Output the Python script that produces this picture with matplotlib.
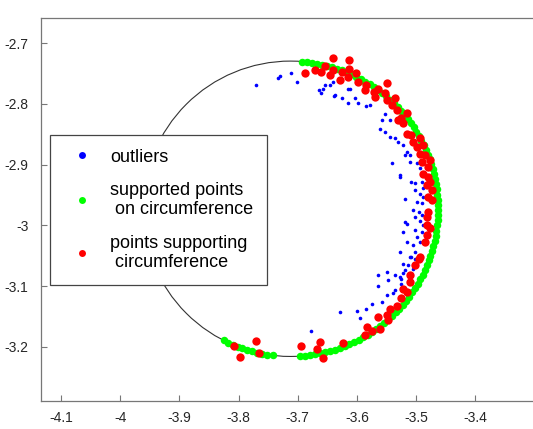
import numpy as np
import matplotlib
matplotlib.use("Agg")
import matplotlib.pyplot as plt
from matplotlib.patches import Ellipse
from matplotlib.lines import Line2D

plt.rcParams['font.family'] = ['Liberation Sans', 'DejaVu Sans']

# fitted circumference (drawn slightly elliptical, as in the source image)
circle_cx, circle_cy = -3.7123, -2.9727
circle_rx, circle_ry = 0.2492, 0.2430

# supported points on circumference, given as angle on the circle (degrees)
green_angles = [85.5, 83.5, 81.5, 79.5, 77.5, 75.5, 73.5, 71.5, 69.5, 67.5,
                65.5, 63.5, 61.5, 59.5, 57.5, 55.5, 53.5, 51.5, 49.5, 47.5,
                45.5, 43.5, 41.5, 39.5, 37.5, 35.5, 33.5, 31.5, 29.5, 27.5,
                25.5, 23.5, 21.5, 19.5, 17.5, 15.5, 13.5, 11.5, 9.5, 7.5,
                5.5, 3.5, 1.5, -0.5, -2.5, -4.5, -6.5, -8.5, -10.5, -12.5,
                -14.5, -16.5, -18.5, -20.5, -22.5, -24.5, -26.5, -28.5, -30.5, -32.5,
                -34.5, -36.5, -38.5, -40.5, -42.5, -44.5, -46.5, -48.5, -50.5, -52.5,
                -54.5, -56.5, -58.5, -60.5, -62.5, -64.5, -66.5, -68.5, -70.5, -72.5,
                -74.5, -76.5, -78.5, -80.5, -82.5, -84.5, -86.5,
                -97, -99, -101, -103, -105, -107, -109, -111, -113, -115, -117]

# points supporting circumference
red_x = [-3.688, -3.671, -3.660, -3.654, -3.640, -3.641, -3.646, -3.626, -3.629, -3.613,
         -3.613, -3.615, -3.601, -3.598, -3.584, -3.586, -3.572, -3.570, -3.564, -3.550,
         -3.553, -3.550, -3.536, -3.541, -3.533, -3.530, -3.516, -3.525, -3.522, -3.516,
         -3.508, -3.505, -3.494, -3.499, -3.488, -3.494, -3.485, -3.491, -3.477, -3.480,
         -3.488, -3.480, -3.477, -3.482, -3.474, -3.480, -3.474, -3.480, -3.482, -3.482,
         -3.477, -3.482, -3.485, -3.496, -3.494, -3.502, -3.510, -3.510, -3.522, -3.516,
         -3.525, -3.533, -3.544, -3.549, -3.564, -3.547, -3.583, -3.575, -3.561, -3.586,
         -3.623, -3.663, -3.668, -3.695, -3.657, -3.807, -3.798, -3.771, -3.766]
red_y = [-2.749, -2.744, -2.748, -2.737, -2.725, -2.744, -2.752, -2.747, -2.761, -2.728,
         -2.742, -2.756, -2.750, -2.764, -2.769, -2.777, -2.780, -2.788, -2.775, -2.766,
         -2.783, -2.794, -2.791, -2.802, -2.810, -2.827, -2.815, -2.824, -2.832, -2.849,
         -2.852, -2.863, -2.857, -2.871, -2.868, -2.882, -2.885, -2.896, -2.893, -2.904,
         -2.915, -2.920, -2.929, -2.934, -2.942, -2.953, -2.959, -2.978, -2.986, -3.000,
         -3.005, -3.016, -3.027, -3.055, -3.052, -3.066, -3.082, -3.093, -3.104, -3.110,
         -3.119, -3.132, -3.137, -3.148, -3.150, -3.156, -3.167, -3.173, -3.170, -3.181,
         -3.193, -3.192, -3.204, -3.198, -3.218, -3.199, -3.216, -3.190, -3.210]

# outliers
blue_x = [-3.771, -3.733, -3.730, -3.711, -3.702, -3.665, -3.660, -3.657, -3.654, -3.646,
          -3.640, -3.637, -3.626, -3.612, -3.615, -3.603, -3.598, -3.584, -3.578, -3.553,
          -3.558, -3.544, -3.561, -3.553, -3.544, -3.536, -3.530, -3.522, -3.516, -3.510,
          -3.541, -3.499, -3.494, -3.491, -3.527, -3.508, -3.502, -3.491, -3.488, -3.502,
          -3.494, -3.488, -3.519, -3.499, -3.491, -3.505, -3.496, -3.491, -3.502, -3.519,
          -3.494, -3.516, -3.488, -3.502, -3.491, -3.522, -3.499, -3.494, -3.516, -3.505,
          -3.527, -3.502, -3.508, -3.502, -3.522, -3.513, -3.505, -3.519, -3.550, -3.564,
          -3.525, -3.547, -3.564, -3.525, -3.536, -3.539, -3.549, -3.558, -3.575, -3.585,
          -3.600, -3.595, -3.629, -3.677, -3.615, -3.638, -3.519, -3.510, -3.527, -3.510,
          -3.522, -3.536, -3.527]
blue_y = [-2.769, -2.757, -2.754, -2.749, -2.764, -2.777, -2.783, -2.775, -2.769, -2.769,
          -2.764, -2.786, -2.791, -2.775, -2.799, -2.791, -2.799, -2.804, -2.802, -2.816,
          -2.827, -2.827, -2.842, -2.846, -2.854, -2.857, -2.863, -2.868, -2.879, -2.885,
          -2.898, -2.898, -2.906, -2.915, -2.920, -2.929, -2.931, -2.929, -2.939, -2.942,
          -2.948, -2.953, -2.957, -2.961, -2.964, -2.975, -2.978, -2.983, -2.986, -2.994,
          -2.992, -2.997, -3.000, -3.008, -3.011, -3.011, -3.019, -3.027, -3.027, -3.033,
          -3.044, -3.044, -3.052, -3.055, -3.063, -3.066, -3.071, -3.074, -3.077, -3.082,
          -3.088, -3.090, -3.099, -3.096, -3.107, -3.112, -3.115, -3.126, -3.129, -3.137,
          -3.141, -3.152, -3.143, -3.174, -2.776, -2.787, -2.885, -2.896, -2.917, -3.052,
          -3.079, -3.082, -3.085]

xticks = [-4.1, -4, -3.9, -3.8, -3.7, -3.6, -3.5, -3.4]
yticks = [-3.2, -3.1, -3, -2.9, -2.8, -2.7]

fig = plt.figure(figsize=(5.33, 4.29), dpi=100)
ax = fig.add_axes([41 / 533, 28 / 429, 494 / 533, 383 / 429])

ax.add_patch(Ellipse((circle_cx, circle_cy), 2 * circle_rx, 2 * circle_ry,
                     fill=False, edgecolor='#333333', lw=0.8, zorder=1))

ang = np.deg2rad(green_angles)
gx = circle_cx + circle_rx * np.cos(ang)
gy = circle_cy + circle_ry * np.sin(ang)

ax.plot(blue_x, blue_y, 'o', color='#0000ff', ms=2.6, mew=0, zorder=2)
ax.plot(gx, gy, 'o', color='#00ff00', ms=5.4, mew=0, zorder=3)
ax.plot(red_x, red_y, 'o', color='#ff0000', ms=6, mew=0, zorder=4)

ax.set_xlim(-4.1338, -3.2993)
ax.set_ylim(-3.289, -2.6588)
ax.set_xticks(xticks)
ax.set_xticklabels(['-4.1', '-4', '-3.9', '-3.8', '-3.7', '-3.6', '-3.5', '-3.4'])
ax.set_yticks(yticks)
ax.set_yticklabels(['-3.2', '-3.1', '-3', '-2.9', '-2.8', '-2.7'])
ax.tick_params(direction='in', length=4, width=0.8, color='#777777',
               labelsize=10, labelcolor='#262626')
ax.tick_params(axis='x', pad=7)
ax.tick_params(axis='y', pad=9)
for s in ax.spines.values():
    s.set_color('#777777')
    s.set_linewidth(0.9)

handles = [Line2D([], [], ls='', marker='o', color='#0000ff', ms=5, mew=0),
           Line2D([], [], ls='', marker='o', color='#00ff00', ms=5, mew=0),
           Line2D([], [], ls='', marker='o', color='#ff0000', ms=5, mew=0)]
labels = ['outliers', 'supported points\n on circumference',
          'points supporting\n circumference']
leg = ax.legend(handles, labels, loc='upper left',
                bbox_to_anchor=(50 / 533, 1 - 135 / 429),
                bbox_transform=fig.transFigure, borderaxespad=0,
                fontsize=13, fancybox=False, framealpha=1,
                edgecolor='#444444', borderpad=0.75, handlelength=2,
                handletextpad=0.6, labelspacing=0.9)
leg.get_frame().set_linewidth(0.9)

fig.savefig('out.png', dpi=100)
